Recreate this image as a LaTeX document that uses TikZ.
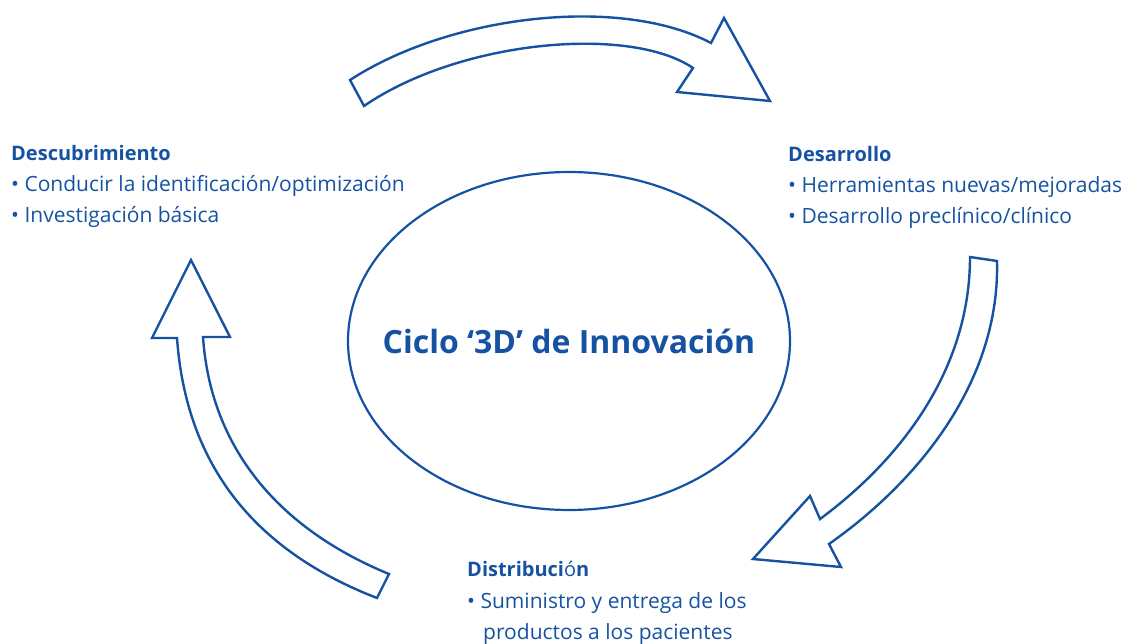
\documentclass[tikz,border=0pt]{standalone}
\usepackage{fontspec}
\setmainfont{Open Sans}
\usetikzlibrary{shapes.geometric}
\definecolor{cblue}{RGB}{22,82,162}
\tikzset{
  bigarrow/.style={draw=cblue, line width=2.4pt, fill=white, line join=miter},
  head/.style={anchor=base west, text=cblue, font=\fontsize{20}{24}\selectfont\bfseries, inner sep=0pt},
  item/.style={anchor=base west, text=cblue, font=\fontsize{21}{24}\selectfont, inner sep=0pt},
  title/.style={text=cblue, font=\fontsize{32}{36}\selectfont\bfseries, inner sep=0pt},
}
\begin{document}
\begin{tikzpicture}[x=1pt,y=-1pt]
\useasboundingbox (0,0) rectangle (1125,644);
% center ellipse
\node[ellipse, draw=cblue, line width=2.2pt, minimum width=442pt, minimum height=338pt, inner sep=0pt] (cycle) at (569,341) {};
\node[title] (ttl) at (cycle.center) {Ciclo ‘3D’ de Innovación};
% top arrow
\draw[bigarrow] (350,80) .. controls (450,15) and (620,-5) .. (711,43)
  -- (724,18) -- (770,101) -- (677,92) -- (693,68)
  .. controls (630,25) and (460,40) .. (364,106) -- cycle;
% right arrow
\draw[bigarrow] (970,257) -- (997,261) .. controls (1000,380) and (920,480) .. (829,544)
  -- (841,567) -- (753,559) -- (810,496) -- (820,519)
  .. controls (900,460) and (970,370) .. (970,257) -- cycle;
% left arrow
\draw[bigarrow] (377,598) .. controls (240,545) and (185,450) .. (177,338)
  -- (152,338) -- (191,260) -- (230,337) -- (203,337)
  .. controls (210,440) and (270,525) .. (389,574) -- cycle;
% texts
\node[head] (d1) at (11,161) {Descubrimiento};
\node[item] (d1a) at (11,192) {• Conducir la identificación/optimización};
\node[item] (d1b) at (11,223) {• Investigación básica};
\node[head] (d2) at (788,162) {Desarrollo};
\node[item] (d2a) at (788,193) {• Herramientas nuevas/mejoradas};
\node[item] (d2b) at (788,224) {• Desarrollo preclínico/clínico};
\node[head] (d3) at (467,576) {Distribuci{\mdseries ó}n};
\node[item] (d3a) at (467,608) {• Suministro y entrega de los};
\node[item] (d3b) at (483,639) {productos a los pacientes};
\end{tikzpicture}
\end{document}
